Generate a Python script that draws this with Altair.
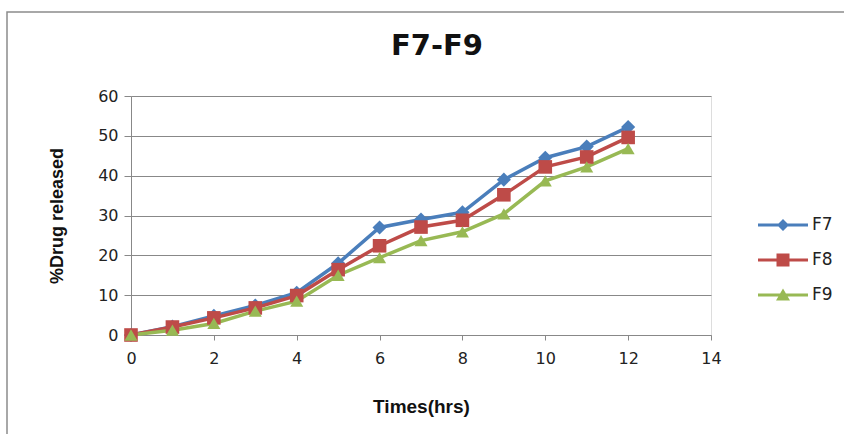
import altair as alt
import pandas as pd

hours = [0, 1, 2, 3, 4, 5, 6, 7, 8, 9, 10, 11, 12]
f7 = [0, 2.1, 4.8, 7.4, 10.6, 18.0, 27.0, 29.0, 30.8, 39.0, 44.5, 47.3, 52.2]
f8 = [0, 2.0, 4.3, 6.8, 9.9, 16.4, 22.4, 27.1, 28.8, 35.2, 42.2, 44.7, 49.6]
f9 = [0, 1.2, 2.9, 6.0, 8.5, 15.0, 19.4, 23.7, 25.9, 30.4, 38.7, 42.2, 46.8]
series = ["F7", "F8", "F9"]
colors = ["#4A7EBB", "#BE4B48", "#98B954"]
shapes = ["diamond", "square", "triangle-up"]
sizes = [200, 170, 230]
x_ticks = [0, 2, 4, 6, 8, 10, 12, 14]
y_ticks = [0, 10, 20, 30, 40, 50, 60]

rows = []
for name, vals in zip(series, [f7, f8, f9]):
    for h, v in zip(hours, vals):
        rows.append({"hrs": h, "val": v, "series": name})
df = pd.DataFrame(rows)

FONT = "DejaVu Sans"
GRAY = "#888888"

# legend symbols: line with marker (custom paths in [-1,1] box scaled by sqrt(size)/2)
bar = "M-2.5,-0.15H2.5V0.15H-2.5Z"
leg_paths = [
    bar + "M0,-0.6L0.6,0L0,0.6L-0.6,0Z",
    bar + "M-0.65,-0.65H0.65V0.65H-0.65Z",
    bar + "M0,-0.65L0.7,0.55H-0.7Z",
]

x_enc = alt.X("hrs:Q", scale=alt.Scale(domain=[0, 14], nice=False),
              axis=alt.Axis(values=x_ticks, title="Times(hrs)", grid=False,
                            domainColor=GRAY, tickColor=GRAY, tickSize=5,
                            labelFont=FONT, labelFontSize=16, labelColor="#222222",
                            labelPadding=10, labelFlush=False, labelOverlap=False,
                            titleFont="Liberation Sans", titleFontSize=19,
                            titleFontWeight="bold", titlePadding=31, titleColor="#111111"))
y_enc = alt.Y("val:Q", scale=alt.Scale(domain=[0, 60], nice=False),
              axis=alt.Axis(values=y_ticks, tickCount=7, title="%Drug released", grid=True,
                            gridColor=GRAY, domainColor=GRAY, tickColor=GRAY, tickSize=7,
                            labelFont=FONT, labelFontSize=16, labelColor="#222222",
                            labelPadding=6, labelFlush=False, labelOverlap=False,
                            titleFont="Liberation Sans", titleFontSize=18,
                            titleFontWeight="bold", titlePadding=31, titleColor="#111111"))

color_scale = alt.Scale(domain=series, range=colors)

legend_props = dict(title=None, orient="none", legendX=642, legendY=119,
                    labelFont=FONT, labelFontSize=17, labelColor="#222222",
                    labelOffset=19, rowPadding=17, symbolOpacity=1,
                    symbolSize=400, padding=0, symbolStrokeWidth=0)

base = alt.Chart(df)

lines = base.mark_line(strokeWidth=3.5).encode(
    x=x_enc, y=y_enc,
    color=alt.Color("series:N", scale=color_scale, legend=None),
)

points = base.mark_point(filled=True, opacity=1).encode(
    x=x_enc, y=y_enc,
    color=alt.Color("series:N", scale=color_scale, legend=None),
    shape=alt.Shape("series:N", scale=alt.Scale(domain=series, range=shapes), legend=None),
    size=alt.Size("series:N", scale=alt.Scale(domain=series, range=sizes), legend=None),
)

legend_layer = base.mark_point(filled=True, opacity=0, size=400).encode(
    x=x_enc, y=y_enc,
    color=alt.Color("series:N", scale=color_scale, legend=alt.Legend(**legend_props)),
    shape=alt.Shape("series:N", scale=alt.Scale(domain=series, range=leg_paths),
                    legend=alt.Legend(**legend_props)),
)

frame = alt.Chart(pd.DataFrame({"k": [0]})).mark_rect(
    fill=None, stroke="#8c8c8c", strokeWidth=1.5
).encode(x=alt.value(-124), x2=alt.value(730), y=alt.value(-84), y2=alt.value(350))

chart = alt.layer(frame, lines, points, legend_layer).resolve_scale(
    color="independent", shape="independent", size="independent"
).properties(
    width=580, height=239,
    autosize="none",
    padding={"left": 131, "top": 96, "right": 133, "bottom": 99},
    title=alt.TitleParams("F7-F9", font="DejaVu Sans", fontSize=29, fontWeight="bold",
                          color="#111111", anchor="middle", offset=-50, dx=16),
).configure_view(stroke=None).configure(background="white")

chart.save("out.html", embed_options={"renderer": "svg", "actions": False})
